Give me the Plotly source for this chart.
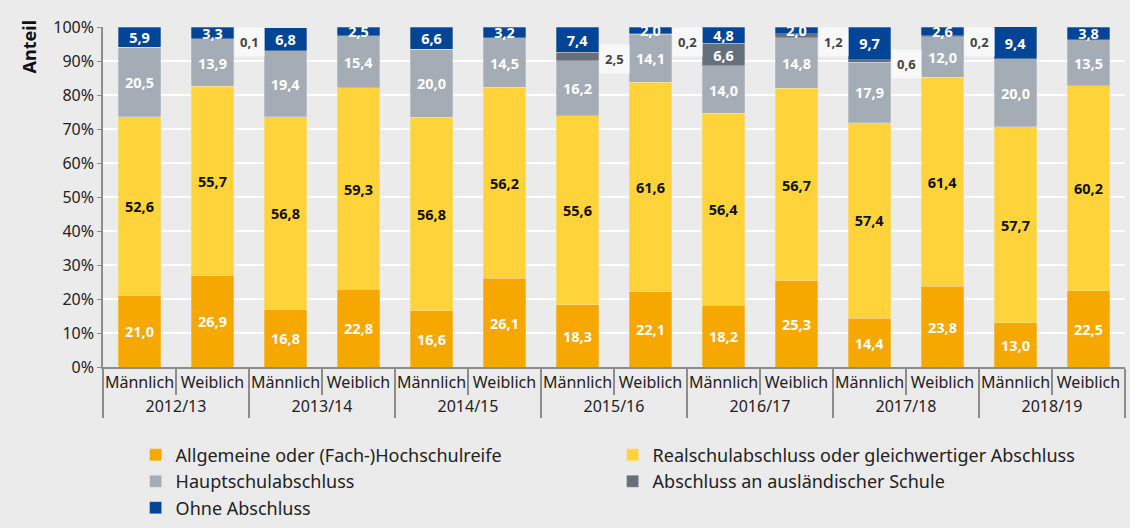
import plotly.graph_objects as go

years = ["2012/13", "2013/14", "2014/15", "2015/16", "2016/17", "2017/18", "2018/19"]
sexes = ["Männlich", "Weiblich"]

hochschulreife = [21.0, 26.9, 16.8, 22.8, 16.6, 26.1, 18.3, 22.1, 18.2, 25.3, 14.4, 23.8, 13.0, 22.5]
realschule = [52.6, 55.7, 56.8, 59.3, 56.8, 56.2, 55.6, 61.6, 56.4, 56.7, 57.4, 61.4, 57.7, 60.2]
hauptschule = [20.5, 13.9, 19.4, 15.4, 20.0, 14.5, 16.2, 14.1, 14.0, 14.8, 17.9, 12.0, 20.0, 13.5]
auslaendisch = [0.0, 0.1, 0.0, 0.0, 0.0, 0.0, 2.5, 0.2, 6.6, 1.2, 0.6, 0.2, 0.0, 0.0]
ohne = [5.9, 3.3, 6.8, 2.5, 6.6, 3.2, 7.4, 2.0, 4.8, 2.0, 9.7, 2.6, 9.4, 3.8]

names = [
    "Allgemeine oder (Fach-)Hochschulreife",
    "Realschulabschluss oder gleichwertiger Abschluss",
    "Hauptschulabschluss",
    "Abschluss an ausländischer Schule",
    "Ohne Abschluss",
]
colors = ["#F6A800", "#FFD43A", "#A4ACB5", "#66707C", "#024496"]
textcolors = ["white", "#111111", "white", "white", "white"]

x_year = [y for y in years for _ in sexes]
x_sex = [s for _ in years for s in sexes]
x = [x_year, x_sex]

FONT = "Noto Sans"

series = [hochschulreife, realschule, hauptschule, auslaendisch, ohne]
fig = go.Figure()
for k, (vals, name, col, tcol) in enumerate(zip(series, names, colors, textcolors)):
    if k == 3:
        texts = [f"{v:.1f}".replace(".", ",") if v >= 5 else "" for v in vals]
    else:
        texts = [f"{v:.1f}".replace(".", ",") for v in vals]
    fig.add_trace(go.Bar(
        x=x, y=vals, name=name,
        marker=dict(color=col, line=dict(width=0.6, color="rgba(235,235,235,0.5)")),
        text=texts, textposition="inside", insidetextanchor="middle",
        constraintext="none",
        textfont=dict(family=FONT, size=14.5, color=tcol, weight="bold"),
        hoverinfo="skip",
    ))

# small values of "ausländische Schule" shown in boxes right of the bar
annotations = []
n = len(auslaendisch)
for i in range(n):
    v = auslaendisch[i]
    if 0 < v < 5:
        base = hochschulreife[i] + realschule[i] + hauptschule[i]
        mid = base + v / 2
        ypos = min(mid, 96.3) - 0.8
        annotations.append(dict(
            x=(i + 1) / n, xref="paper", y=ypos, yref="y",
            text=f"{v:.1f}".replace(".", ","), showarrow=False,
            font=dict(family=FONT, size=13, color="#444444", weight="bold"),
            bgcolor="rgba(248,248,248,0.92)", borderpad=5,
            xanchor="center", yanchor="middle",
        ))

# y-axis title placed at the top like the reference
annotations.append(dict(
    text="<b>Anteil</b>", xref="paper", yref="paper", x=-0.072, y=1.025,
    xanchor="center", yanchor="top", textangle=-90, showarrow=False,
    font=dict(family=FONT, size=18, color="#111111"),
))

fig.update_layout(
    width=1130, height=528,
    barmode="stack", bargap=0.42,
    paper_bgcolor="#EBEBEB", plot_bgcolor="#EBEBEB",
    margin=dict(l=103, r=5, t=27, b=161),
    font=dict(family=FONT, color="#222222"),
    annotations=annotations,
    legend=dict(
        orientation="h", xref="container", yref="container",
        x=0.12, y=0.173, xanchor="left", yanchor="top",
        entrywidth=432, entrywidthmode="pixels",
        font=dict(family=FONT, size=18, color="#222222"),
        itemwidth=30, traceorder="normal",
    ),
    xaxis=dict(
        type="multicategory", showline=True, linecolor="#8C8C8C", linewidth=1.5,
        ticks="outside", tickson="boundaries", ticklen=26, tickcolor="#8C8C8C", tickwidth=1.5,
        showdividers=True, dividercolor="#8C8C8C", dividerwidth=1.5,
        tickfont=dict(family=FONT, size=16, color="#222222"), tickangle=0,
        showgrid=False,
    ),
    yaxis=dict(
        range=[0, 100], dtick=10, ticksuffix="%",
        showgrid=True, gridcolor="white", gridwidth=2,
        showline=True, linecolor="#8C8C8C", linewidth=1.5,
        ticks="outside", ticklen=4, tickcolor="#8C8C8C",
        tickfont=dict(family=FONT, size=16, color="#222222"),
        zeroline=False,
    ),
    separators=",.",
)

fig.write_html("out.html", config={"displayModeBar": False},
               post_script="document.body.style.margin='0';")
